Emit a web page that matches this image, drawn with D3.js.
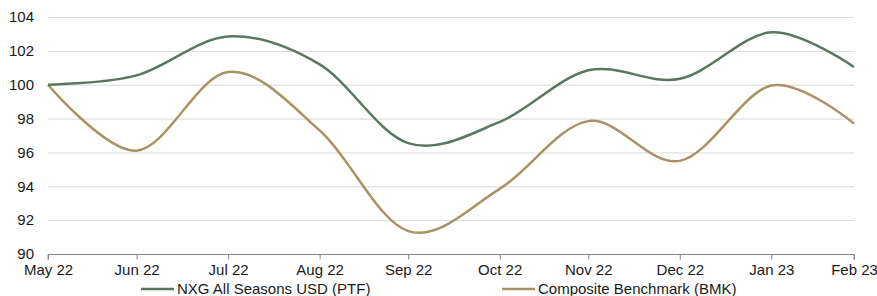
<!DOCTYPE html>
<html>
<head>
<meta charset="utf-8">
<script src="https://cdn.jsdelivr.net/npm/d3@7"></script>
<style>
  body { margin: 0; background: #fff; }
  text { font-family: "Liberation Sans", Arial, sans-serif; fill: #1a1a1a; }
</style>
</head>
<body>
<div id="chart"></div>
<script>
// month-end dates and their axis labels
var dates = ["2022-05-31", "2022-06-30", "2022-07-31", "2022-08-31", "2022-09-30",
             "2022-10-31", "2022-11-30", "2022-12-31", "2023-01-31", "2023-02-28"];
var months = ["May 22", "Jun 22", "Jul 22", "Aug 22", "Sep 22", "Oct 22", "Nov 22", "Dec 22", "Jan 23", "Feb 23"];
// NXG All Seasons USD (PTF)
var ptf = [100, 100.55, 102.85, 101.2, 96.55, 97.8, 100.85, 100.35, 103.1, 101.05];
// Composite Benchmark (BMK)
var bmk = [100, 96.1, 100.75, 97.3, 91.35, 93.85, 97.85, 95.5, 99.95, 97.7];
var yTicks = [90, 92, 94, 96, 98, 100, 102, 104];

var width = 877, height = 296;
var margin = {left: 48, right: 23, top: 17, bottom: 42};
var fontSize = 15;

var parse = d3.timeParse("%Y-%m-%d");
var xDates = dates.map(parse);

var svg = d3.select("#chart").append("svg")
  .attr("width", width).attr("height", height);

var x = d3.scaleTime().domain(d3.extent(xDates)).range([margin.left, width - margin.right]);
var y = d3.scaleLinear().domain([90, 104]).range([height - margin.bottom, margin.top]);

// gridlines
svg.append("g").selectAll("line").data(yTicks.slice(1)).enter().append("line")
  .attr("x1", margin.left).attr("x2", width - margin.right)
  .attr("y1", function (d) { return y(d) + 0.5; })
  .attr("y2", function (d) { return y(d) + 0.5; })
  .attr("stroke", "#d9d9d9").attr("stroke-width", 1);

// y labels
svg.append("g").selectAll("text").data(yTicks).enter().append("text")
  .attr("x", 34).attr("y", function (d) { return y(d); })
  .attr("dy", "0.35em").attr("text-anchor", "end")
  .attr("font-size", fontSize).text(function (d) { return d; });

// x axis
var xAxis = svg.append("g")
  .attr("transform", "translate(0," + (y(90) + 0.5) + ")")
  .call(d3.axisBottom(x).tickValues(xDates).tickSize(5).tickPadding(5)
    .tickFormat(function (d, i) { return months[i]; }));
xAxis.select(".domain").attr("stroke", "#868686").attr("d",
  "M" + margin.left + ",5V0H" + (width - margin.right) + "V5");
xAxis.selectAll(".tick line").attr("stroke", "#868686");
xAxis.selectAll(".tick text").attr("font-size", fontSize).attr("fill", "#1a1a1a")
  .attr("font-family", "Liberation Sans, Arial, sans-serif");

var line = d3.line()
  .x(function (d, i) { return x(xDates[i]); })
  .y(function (d) { return y(d); })
  .curve(d3.curveCatmullRom.alpha(0));

var series = [
  {name: "Composite Benchmark (BMK)", values: bmk, color: "#a69464", lx: 502},
  {name: "NXG All Seasons USD (PTF)", values: ptf, color: "#5b7762", lx: 141}
];

svg.selectAll(".series").data(series).enter().append("path")
  .attr("class", "series")
  .attr("d", function (d) { return line(d.values); })
  .attr("fill", "none")
  .attr("stroke", function (d) { return d.color; })
  .attr("stroke-width", 2.5);

// legend
var leg = svg.selectAll(".leg").data(series).enter().append("g").attr("class", "leg");
leg.append("line")
  .attr("x1", function (d) { return d.lx; })
  .attr("x2", function (d) { return d.lx + 33; })
  .attr("y1", 289).attr("y2", 289)
  .attr("stroke", function (d) { return d.color; }).attr("stroke-width", 2.5);
leg.append("text")
  .attr("x", function (d) { return d.lx + 36; })
  .attr("y", 289).attr("dy", "0.35em")
  .attr("font-size", fontSize)
  .text(function (d) { return d.name; });
</script>
</body>
</html>
